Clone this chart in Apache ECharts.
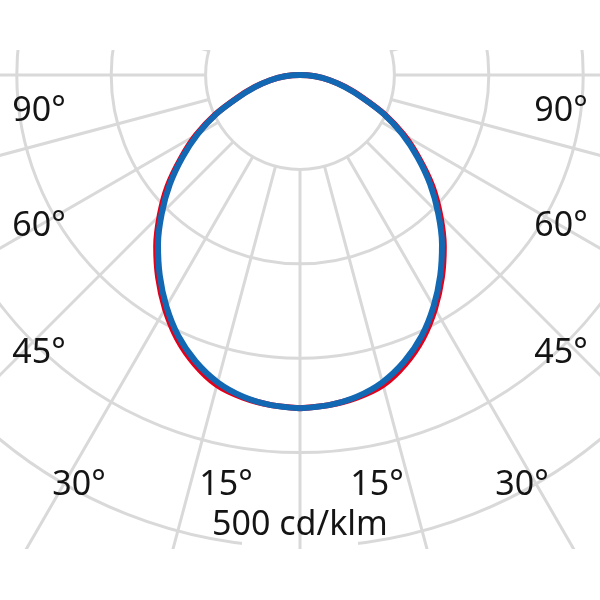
<!DOCTYPE html>
<html><head><meta charset="utf-8">
<script src="https://cdn.jsdelivr.net/npm/echarts@6/dist/echarts.min.js"></script>
<style>html,body{margin:0;padding:0;background:#fff}#c{width:600px;height:600px}</style>
</head><body><div id="c"></div>
<script>
// Angles (deg from nadir) and luminous intensity (cd/klm)
const angles      = [0, 5, 10, 15, 20, 25, 30, 35, 40, 45, 50, 55, 60, 65, 70, 75, 80, 85, 90];
const blueValues  = [353, 351, 346, 337, 323, 305, 283, 259, 234, 207, 180, 152, 125, 98, 70, 49, 32, 16, 0];
const redValues   = [353, 351, 347, 340, 326, 308, 286, 262, 237, 210, 183, 154, 127, 99, 71, 50, 32, 16, 0];
const sideLabels   = ['90°', '60°', '45°'];
const bottomLabels = ['30°', '15°', '15°', '30°'];
const unitLabel    = '500 cd/klm';
const ringStep = 100, ringMax = 600;

const CX = 300, CY = 75, PX = 0.944;
const FONT = '34px "Noto Sans"';

function closedCurve(vals) {
  const pts = [];
  for (let i = 0; i < angles.length; i++) pts.push([vals[i], angles[i]]);
  for (let i = angles.length - 1; i >= 0; i--) pts.push([vals[i], 360 - angles[i]]);
  return pts;
}

const gridLine = { color: '#d9d9d9', width: 3 };
const hidden = { show: false };

const texts = [];
const sideY = [111, 226, 353];
sideLabels.forEach((t, i) => {
  texts.push({ type: 'text', x: 39, y: sideY[i], z: 20, style: { text: t, font: FONT, fill: '#141414', align: 'center', verticalAlign: 'middle' } });
  texts.push({ type: 'text', x: 561, y: sideY[i], z: 20, style: { text: t, font: FONT, fill: '#141414', align: 'center', verticalAlign: 'middle' } });
});
const bottomX = [79, 226, 377, 522];
bottomLabels.forEach((t, i) => {
  texts.push({ type: 'text', x: bottomX[i], y: 485, z: 20, style: { text: t, font: FONT, fill: '#141414', align: 'center', verticalAlign: 'middle' } });
});
texts.push({ type: 'text', x: 300, y: 525, z: 20, style: { text: unitLabel, font: FONT, fill: '#141414', align: 'center', verticalAlign: 'middle' } });

const chart = echarts.init(document.getElementById('c'), null, { renderer: 'canvas' });
chart.setOption({
  animation: false,
  backgroundColor: '#fff',
  polar: [
    { center: [CX, CY], radius: [ringStep * PX, ringMax * PX] },
    { center: [CX, CY], radius: [0, ringMax * PX] }
  ],
  angleAxis: [
    { polarIndex: 0, type: 'value', min: 0, max: 360, interval: 15, startAngle: 270, clockwise: true, z: 3,
      axisLine: hidden, axisTick: hidden, axisLabel: hidden, splitArea: hidden,
      splitLine: { show: true, lineStyle: gridLine } },
    { polarIndex: 1, type: 'value', min: 0, max: 360, startAngle: 270, clockwise: true, show: false,
      axisLine: hidden, axisTick: hidden, axisLabel: hidden, splitLine: hidden }
  ],
  radiusAxis: [
    { polarIndex: 0, type: 'value', min: ringStep, max: ringMax, interval: ringStep, z: 1,
      axisLine: hidden, axisTick: hidden, axisLabel: hidden, splitArea: hidden,
      splitLine: { show: true, lineStyle: gridLine } },
    { polarIndex: 1, type: 'value', min: 0, max: ringMax, show: false,
      axisLine: hidden, axisTick: hidden, axisLabel: hidden, splitLine: hidden }
  ],
  series: [
    { type: 'line', coordinateSystem: 'polar', polarIndex: 1, data: closedCurve(redValues),
      showSymbol: false, smooth: 0.3, z: 5, lineStyle: { color: '#e3001b', width: 6 } },
    { type: 'line', coordinateSystem: 'polar', polarIndex: 1, data: closedCurve(blueValues),
      showSymbol: false, smooth: 0.3, z: 6, lineStyle: { color: '#1268b3', width: 6 } }
  ],
  graphic: [
    { type: 'rect', z: 2, shape: { x: 242, y: 537, width: 116, height: 14 }, style: { fill: '#fff' } },
    { type: 'rect', z: 10, shape: { x: 0, y: 0, width: 600, height: 50 }, style: { fill: '#fff' } },
    { type: 'rect', z: 10, shape: { x: 0, y: 549, width: 600, height: 51 }, style: { fill: '#fff' } }
  ].concat(texts)
});
</script>
</body></html>
